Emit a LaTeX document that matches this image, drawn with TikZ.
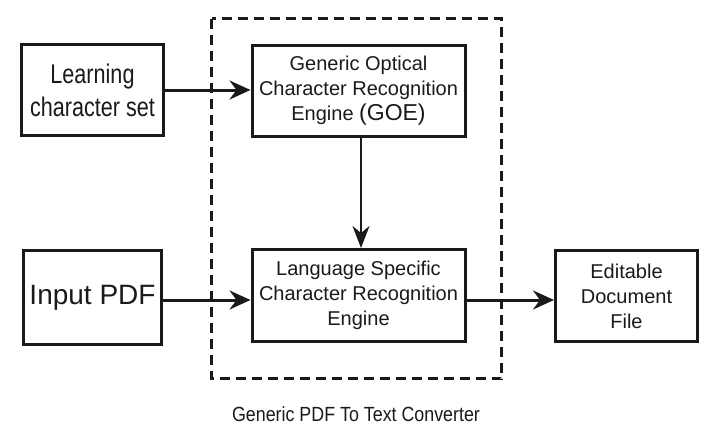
\documentclass[tikz,border=0pt]{standalone}
\usepackage{fontspec}
\setmainfont{Liberation Sans}
\newfontfamily\narrowsans[FakeStretch=0.8]{Liberation Sans}
\newfontfamily\captionsans[FakeStretch=0.87]{Liberation Sans}
\usetikzlibrary{arrows.meta}
\definecolor{ink}{HTML}{1A1A1A}
\tikzset{
  block/.style={draw=ink, line width=3pt, rectangle, align=center, text=ink,
                inner sep=0pt},
  flow/.style={draw=ink, line width=3pt,
               -{Stealth[length=21pt,width=19pt,inset=7pt]}},
  thinflow/.style={draw=ink, line width=2pt,
               -{Stealth[length=22pt,width=17pt,inset=7pt]}},
  frame/.style={draw=ink, line width=3pt, dash pattern=on 10pt off 6pt}
}
\begin{document}
\begin{tikzpicture}[x=1pt,y=-1pt]
  \useasboundingbox (0,0) rectangle (705,426);

  % dashed boundary of the converter
  \draw[frame] (211.5,18.5) rectangle (501.5,378.5);

  % blocks
  \node[block, minimum width=142pt, minimum height=91pt,
        font=\narrowsans\fontsize{27}{33}\selectfont]
        (learn) at (92.5,90) {Learning\\character set};
  \node[block, minimum width=213pt, minimum height=91pt,
        font=\fontsize{20}{25}\selectfont]
        (goe) at (358.5,91) {Generic Optical\\Character Recognition\\Engine {\fontsize{23}{25}\selectfont(GOE)}};
  \node[block, minimum width=138pt, minimum height=94pt,
        font=\fontsize{28}{34}\selectfont]
        (input) at (92.5,297.5) {Input PDF};
  \node[block, minimum width=213pt, minimum height=92pt,
        font=\fontsize{20}{25}\selectfont]
        (lang) at (358.5,295.5) {Language Specific\\Character Recognition\\Engine};
  \node[block, minimum width=142pt, minimum height=91pt,
        font=\fontsize{20}{25}\selectfont]
        (edit) at (626.5,296) {Editable\\Document\\File};

  % caption under the boundary
  \node[text=ink, font=\captionsans\fontsize{20.5}{24}\selectfont]
        (caption) at (356,414) {Generic PDF To Text Converter};

  % connectors
  \draw[flow] (learn.east) -- (learn.east -| goe.west);
  \draw[flow] (input.east |- 0,300) -- (lang.west |- 0,300);
  \draw[flow] (lang.east |- 0,300) -- (edit.west |- 0,300);
  \draw[thinflow] (goe.south -| 361,0) -- (lang.north -| 361,0);
\end{tikzpicture}
\end{document}
